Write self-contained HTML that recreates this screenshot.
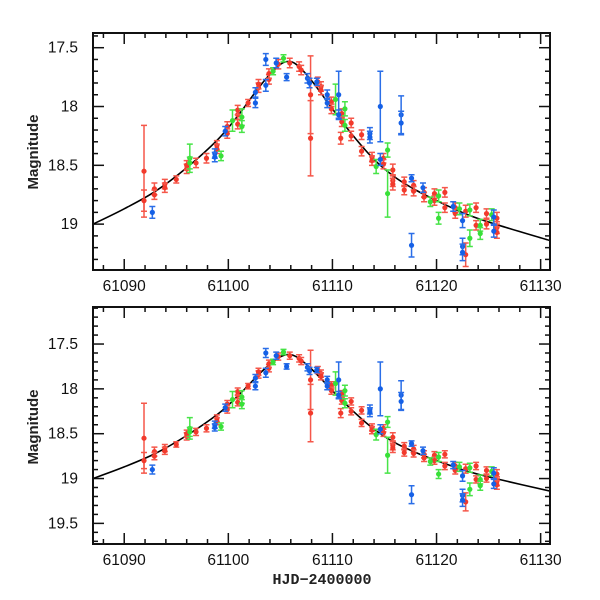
<!DOCTYPE html>
<html><head><meta charset="utf-8"><style>
html,body{margin:0;padding:0;background:#fff;}
svg{display:block;font-family:"Liberation Sans",sans-serif;}
</style></head><body>
<svg id="chart" width="600" height="600" viewBox="0 0 600 600" xmlns="http://www.w3.org/2000/svg">
<text x="322" y="584" text-anchor="middle" font-size="15" font-family="'Liberation Mono',monospace" font-weight="bold" fill="#222">HJD−2400000</text>
</svg>
<script>
// Model curve
const modelX=[61087,61090,61093,61096,61099,61101,61103,61104.5,61105.5,61106.5,61108,61110,61112,61114,61116,61118,61120,61123,61126,61130.9];
const modelY=[19.0,18.87,18.72,18.52,18.28,18.07,17.83,17.68,17.62,17.64,17.78,18.02,18.25,18.45,18.6,18.71,18.8,18.92,19.01,19.14];
// Red series
const redX=[61091.9,61091.9,61092.9,61092.9,61093.9,61093.9,61095.0,61096.0,61096.0,61096.9,61097.9,61098.9,61098.9,61099.9,61099.9,61100.9,61100.9,61100.9,61101.9,61102.9,61102.9,61103.9,61103.9,61104.8,61105.9,61106.8,61107.0,61107.9,61107.9,61108.6,61108.9,61108.9,61109.9,61109.9,61110.9,61110.9,61110.8,61111.8,61111.8,61112.8,61112.8,61113.8,61113.8,61114.9,61114.9,61115.8,61115.8,61115.8,61116.9,61116.9,61117.8,61117.8,61118.8,61118.8,61119.8,61119.8,61120.8,61120.8,61121.8,61121.8,61122.8,61122.8,61123.8,61123.8,61124.8,61124.8,61125.8,61125.8,61125.8];
const redY=[18.55,18.8,18.70,18.75,18.66,18.69,18.62,18.53,18.5,18.48,18.44,18.33,18.36,18.17,18.23,18.07,18.15,18.03,17.97,17.84,17.81,17.77,17.72,17.64,17.63,17.66,17.69,17.9,18.27,17.79,17.83,17.86,17.96,18.02,18.06,18.13,18.27,18.14,18.25,18.24,18.38,18.43,18.46,18.44,18.49,18.54,18.63,18.66,18.64,18.71,18.67,18.72,18.73,18.77,18.74,18.80,18.73,18.86,18.86,18.91,19.26,18.89,18.86,19.01,18.91,19.0,18.95,19.03,19.07];
const redE=[0.39,0.09,0.05,0.04,0.04,0.04,0.03,0.04,0.04,0.04,0.04,0.04,0.04,0.04,0.04,0.04,0.04,0.04,0.03,0.04,0.04,0.04,0.04,0.04,0.04,0.04,0.04,0.33,0.32,0.04,0.04,0.04,0.04,0.04,0.04,0.04,0.05,0.04,0.04,0.04,0.04,0.04,0.04,0.04,0.04,0.05,0.05,0.05,0.04,0.04,0.04,0.04,0.04,0.04,0.04,0.04,0.04,0.04,0.04,0.04,0.1,0.05,0.04,0.04,0.04,0.04,0.05,0.05,0.05];
// Blue series
const blueX=[61092.7,61098.7,61098.7,61099.7,61102.6,61102.6,61103.6,61103.6,61104.6,61105.6,61107.6,61107.8,61108.5,61109.5,61109.5,61110.6,61110.6,61113.6,61113.6,61114.6,61114.6,61116.6,61116.6,61117.6,61117.6,61118.7,61121.6,61122.5,61122.5,61122.5,61125.5,61125.5];
const blueY=[18.9,18.40,18.43,18.21,17.97,17.88,17.82,17.6,17.63,17.75,17.76,17.80,17.79,17.90,17.97,17.90,18.07,18.23,18.26,18.0,18.45,18.07,18.14,19.18,18.61,18.69,18.85,18.97,19.19,19.24,18.94,19.06];
const blueE=[0.05,0.04,0.04,0.04,0.04,0.04,0.05,0.05,0.04,0.03,0.04,0.04,0.03,0.04,0.04,0.2,0.04,0.05,0.05,0.3,0.05,0.16,0.1,0.1,0.03,0.04,0.04,0.06,0.07,0.07,0.06,0.05];
// Green series
const greenX=[61096.3,61096.3,61099.3,61100.4,61101.3,61101.3,61104.3,61105.3,61110.3,61111.2,61111.2,61114.2,61115.3,61115.3,61119.4,61120.2,61120.2,61122.2,61123.2,61123.2,61124.2,61124.2,61125.3];
const greenY=[18.44,18.48,18.42,18.12,18.09,18.17,17.70,17.59,17.94,18.02,18.16,18.51,18.37,18.74,18.81,18.76,18.95,18.87,19.12,18.88,19.01,19.08,18.92];
const greenE=[0.12,0.05,0.04,0.09,0.07,0.05,0.03,0.03,0.13,0.06,0.05,0.06,0.06,0.2,0.04,0.05,0.05,0.05,0.07,0.05,0.05,0.05,0.05];

const xTicks=[61090,61100,61110,61120,61130];
const yTicks=[17.5,18,18.5,19,19.5];

const NS="http://www.w3.org/2000/svg";
const svg=document.getElementById('chart');
function mk(tag,attrs,parent){const e=document.createElementNS(NS,tag);for(const k in attrs)e.setAttribute(k,attrs[k]);(parent||svg).appendChild(e);return e;}

const panels=[
 {name:'top',top:33,bottom:270,ymin:17.375,ymax:19.39,titleY:152},
 {name:'bottom',top:307,bottom:544,ymin:17.087,ymax:19.73,titleY:427}
];
const L=93,R=550,XMIN=61087,XMAX=61130.9;
const sx=v=>L+(v-XMIN)/(XMAX-XMIN)*(R-L);

panels.forEach((p,pi)=>{
 const sy=v=>p.top+(v-p.ymin)/(p.ymax-p.ymin)*(p.bottom-p.top);
 const g=mk('g',{});
 
 
 const clipId='clip'+pi;
 const cp=mk('clipPath',{id:clipId},g);
 mk('rect',{x:L,y:p.top,width:R-L,height:p.bottom-p.top},cp);
 const tg=mk('g',{stroke:'#111','stroke-width':1.5},g);
 
 
 for(let d=61088;d<=61130;d+=2){
  const maj=(d%10===0);const len=maj?11:5;const x=sx(d);
  mk('line',{x1:x,y1:p.bottom,x2:x,y2:p.bottom-len},tg);
  mk('line',{x1:x,y1:p.top,x2:x,y2:p.top+len},tg);
 }
 for(let m=Math.ceil(p.ymin*10);m<=Math.floor(p.ymax*10);m++){
  const maj=(m%5===0);const len=maj?11:5;const y=sy(m/10);
  mk('line',{x1:L,y1:y,x2:L+len,y2:y},tg);
  mk('line',{x1:R,y1:y,x2:R-len,y2:y},tg);
 }
 xTicks.forEach(v=>{
  const t=mk('text',{x:sx(v),y:p.bottom+21,'text-anchor':'middle','font-size':15.5,fill:'#111'},g);
  
  
  t.textContent=v;
 });
 yTicks.forEach(v=>{
  if(v<p.ymin||v>p.ymax)return;
  const t=mk('text',{x:78,y:sy(v)+5,'text-anchor':'end','font-size':15.5,fill:'#111'},g);
  
  
  t.textContent=v;
 });
 const yt=mk('text',{x:0,y:0,transform:`translate(38,${p.titleY}) rotate(-90)`,'text-anchor':'middle','font-size':15,'font-weight':'bold',fill:'#222'},g);
 
 
 yt.textContent='Magnitude';
 const dg=mk('g',{'clip-path':`url(#${clipId})`},g);
 // model, smooth Catmull-Rom
 const pts=modelX.map((v,i)=>[sx(v),sy(modelY[i])]);
 let d='M'+pts[0][0].toFixed(1)+','+pts[0][1].toFixed(1);
 for(let i=0;i<pts.length-1;i++){
  const p0=pts[Math.max(0,i-1)],p1=pts[i],p2=pts[i+1],p3=pts[Math.min(pts.length-1,i+2)];
  const c1=[p1[0]+(p2[0]-p0[0])/6,p1[1]+(p2[1]-p0[1])/6];
  const c2=[p2[0]-(p3[0]-p1[0])/6,p2[1]-(p3[1]-p1[1])/6];
  d+=`C${c1[0].toFixed(1)},${c1[1].toFixed(1)} ${c2[0].toFixed(1)},${c2[1].toFixed(1)} ${p2[0].toFixed(1)},${p2[1].toFixed(1)}`;
 }
 const ml=mk('path',{d:d,fill:'none',stroke:'#000','stroke-width':1.6,'stroke-linejoin':'round'},dg);
 
 
 const series=[
  {n:'red',X:redX,Y:redY,E:redE,c:'#f23a2c',b:'#f5574a'},
  {n:'green',X:greenX,Y:greenY,E:greenE,c:'#38e038',b:'#48e448'},
  {n:'blue',X:blueX,Y:blueY,E:blueE,c:'#1560e6',b:'#2a6ee8'}
 ];
 series.forEach(s=>{
  const sg=mk('g',{},dg);
  
  
  s.X.forEach((xv,i)=>{
   const x=sx(xv),y=sy(s.Y[i]),y1=sy(s.Y[i]-s.E[i]),y2=sy(s.Y[i]+s.E[i]);
   const eb=mk('path',{d:`M${x},${y1}V${y2}M${x-3},${y1}H${x+3}M${x-3},${y2}H${x+3}`,stroke:s.b,'stroke-width':1.5,fill:'none'},sg);
   
   
   const c=mk('circle',{cx:x,cy:y,r:2.6,fill:s.c},sg);
   
   
  });
 });
 const fr=mk('rect',{x:L,y:p.top,width:R-L,height:p.bottom-p.top,fill:'none',stroke:'#111','stroke-width':2},g);
 
 
});
</script>
</body></html>
